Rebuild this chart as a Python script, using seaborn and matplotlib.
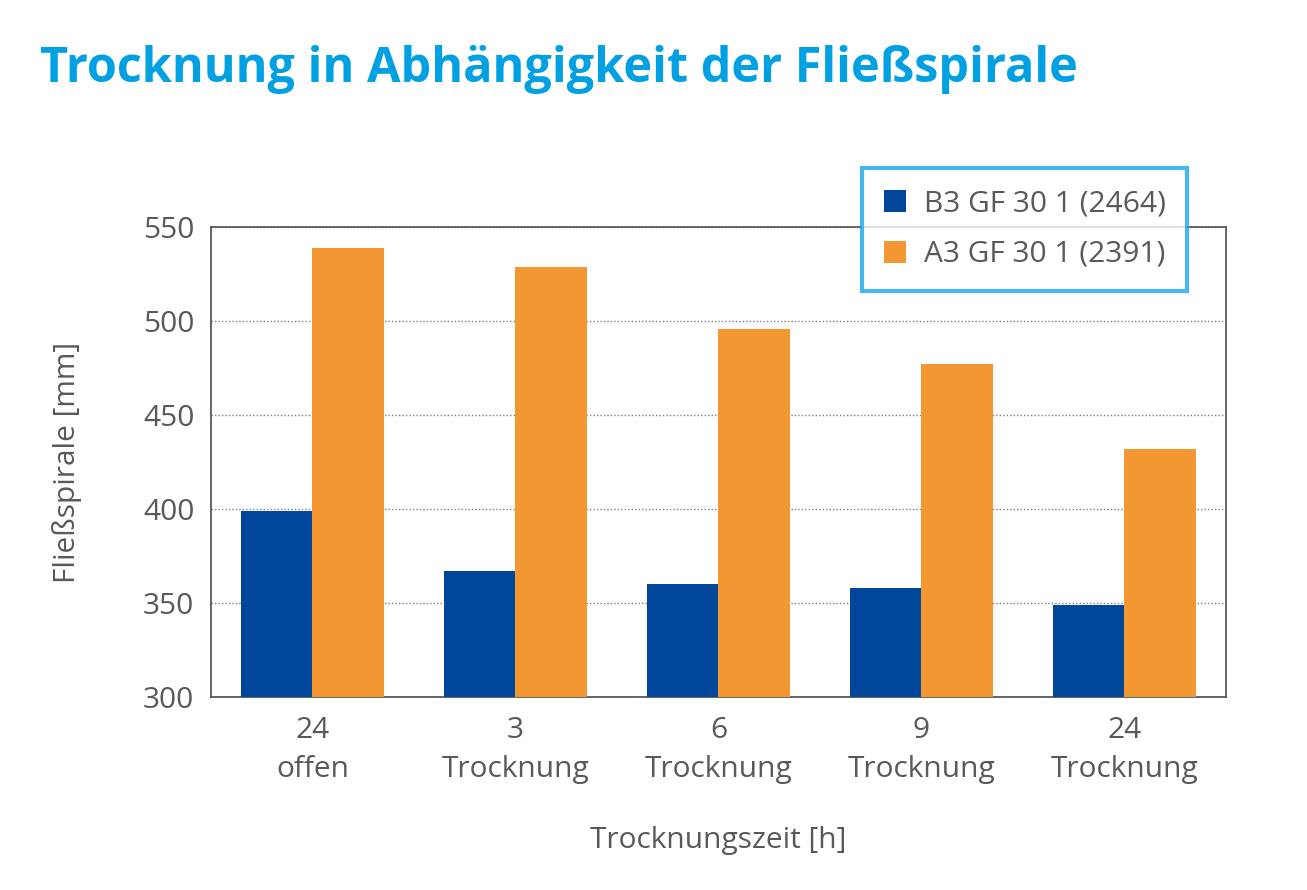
import pandas as pd
import seaborn as sns
import matplotlib.pyplot as plt

# data
categories = ['24\noffen', '3\nTrocknung', '6\nTrocknung', '9\nTrocknung', '24\nTrocknung']
series_names = ['B3 GF 30 1 (2464)', 'A3 GF 30 1 (2391)']
b3_values = [399, 367, 360, 358, 349]
a3_values = [539, 529, 496, 477, 432]

df = pd.DataFrame({
    'Trocknungszeit': categories * 2,
    'Serie': [series_names[0]] * len(categories) + [series_names[1]] * len(categories),
    'Fliessspirale': b3_values + a3_values,
})

sns.set_style('white')
plt.rcParams['font.family'] = ['Open Sans', 'DejaVu Sans']

grey = '#595959'
fs = 21.5
fig = plt.figure(figsize=(13.07, 8.9), dpi=100)
ax = fig.add_axes([0.1614, 0.2169, 0.7766, 0.528])

sns.barplot(data=df, x='Trocknungszeit', y='Fliessspirale', hue='Serie',
            palette=['#00479B', '#F39733'], width=0.7, saturation=1,
            linewidth=0, ax=ax, zorder=3)

ax.set_ylim(300, 550)
ax.set_yticks([300, 350, 400, 450, 500, 550])
ax.yaxis.grid(True, linestyle=(0, (1, 1.5)), color='#7f7f7f', linewidth=1, zorder=0)
ax.set_axisbelow(True)
for s in ax.spines.values():
    s.set_color(grey)
    s.set_linewidth(1.3)

ax.tick_params(axis='both', colors=grey, labelsize=fs, length=0)
ax.tick_params(axis='x', pad=14)
ax.tick_params(axis='y', pad=12)
for lbl in ax.get_xticklabels():
    lbl.set_linespacing(1.45)
ax.set_xlabel('Trocknungszeit [h]', fontsize=fs, color=grey, labelpad=30)
ax.set_ylabel('Fließspirale [mm]', fontsize=fs, color=grey, labelpad=44)

leg = ax.legend(loc='upper left', bbox_to_anchor=(862 / 1307, 1 - 168 / 890),
                bbox_transform=fig.transFigure, frameon=True, fontsize=fs,
                handlelength=0.75, handleheight=0.75, handletextpad=0.6,
                borderpad=0.72, labelspacing=0.72, fancybox=False, borderaxespad=0)
leg.get_frame().set_edgecolor('#1AA7E8')
leg.get_frame().set_linewidth(3)
for t in leg.get_texts():
    t.set_color(grey)

fig.text(40 / 1307, 1 - 70 / 890, 'Trocknung in Abhängigkeit der Fließspirale',
         fontsize=35, fontweight='bold', color='#00A0E3', va='center', ha='left')

plt.savefig('out.png', dpi=100)
